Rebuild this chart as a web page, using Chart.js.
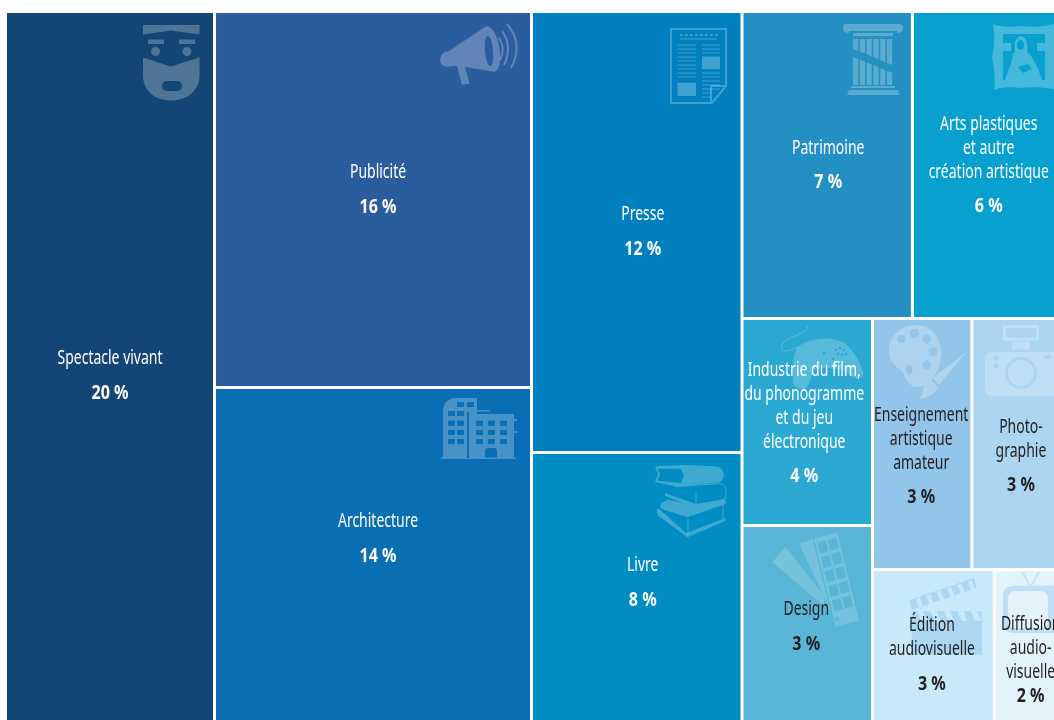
<!DOCTYPE html>
<html lang="fr">
<head>
<meta charset="utf-8">
<title>Répartition par secteur</title>
<script src="https://cdn.jsdelivr.net/npm/chart.js@4"></script>
<style>
    html, body { margin: 0; padding: 0; background: #fff; overflow: hidden; }
    canvas { display: block; }
</style>
</head>
<body>
<canvas id="treemap" width="1054" height="720"></canvas>
<script>
// DATA
const labels = [
    ["Spectacle vivant"], ["Publicité"], ["Architecture"], ["Presse"], ["Livre"],
    ["Patrimoine"], ["Arts plastiques", "et autre", "création artistique"],
    ["Industrie du film,", "du phonogramme", "et du jeu", "électronique"], ["Design"],
    ["Enseignement", "artistique", "amateur"], ["Photo-", "graphie"],
    ["Édition", "audiovisuelle"], ["Diffusion", "audio-", "visuelle"]
];
const percents = [20, 16, 14, 12, 8, 7, 6, 4, 3, 3, 3, 3, 2];
// area of each cell (the printed labels are rounded)
const areas = [19.84, 15.49, 14.60, 12.06, 7.92, 6.80, 5.85, 3.51, 3.67, 3.24, 2.84, 2.73, 1.45];
const colors = [
    "#134675", "#2B5C9E", "#0A6EB4", "#0080BF", "#008DC3", "#248FC2", "#07A0CF",
    "#2CA9D2", "#5AB6D6", "#93C5EA", "#ABD5F1", "#C8E9FA", "#E2F3FC"
];
const darkText = [false, false, false, false, false, false, false, false, true, true, true, true, true];

// which cell sits where: splits go x, y, x, y... at each depth
const tree = [0, [1, 2], [3, 4], [[5, 6], [[7, 8], [[9, 10], [11, 12]]]]];

// the picture is cropped on the right and at the bottom
const visibleX = 99.525;
const visibleY = 96.99;

// text shift from the cell centre [dx, dy of the first line]
const textShift = [
    [0, -18], [5, -26.5], [5, -42.75], [6, -17], [6, -31.5], [1, -16], [3, -40],
    [-3, -51], [-1, -23.75], [-1, -28], [5.5, -16], [-1.5, -29.75], [4, -30.75]
];
const percentGap = [35, 35, 35, 35, 35, 34, 34, 34, 35, 34, 34, 35, 24];

// LAYOUT
function weight(node) {
    return Array.isArray(node) ? node.reduce((s, n) => s + weight(n), 0) : areas[node];
}

function slice(node, x0, y0, x1, y1, depth, out) {
    if (!Array.isArray(node)) {
        out[node] = { x: x0, y: y0, x0, y0, x1, y1 };
        return;
    }
    let total = weight(node);
    let pos = depth % 2 === 0 ? x0 : y0;
    node.forEach(n => {
        let size = weight(n) / total * (depth % 2 === 0 ? x1 - x0 : y1 - y0);
        if (depth % 2 === 0) slice(n, pos, y0, pos + size, y1, depth + 1, out);
        else slice(n, x0, pos, x1, pos + size, depth + 1, out);
        pos += size;
    });
}

const cells = [];
slice(tree, 0, 0, 100, 100, 0, cells);

// ICONS (path strings are local to the icon, in pixels)
function circle(cx, cy, r) {
    return `M${cx - r} ${cy}a${r} ${r} 0 1 0 ${r * 2} 0a${r} ${r} 0 1 0 ${-r * 2} 0Z`;
}

function hLines(x0, x1, ys) {
    return ys.map(y => `M${x0} ${y - 0.6}H${x1}V${y + 0.6}H${x0}Z`).join("");
}

function columnFlutes() {
    let d = "";
    for (let k = 0; k < 6; k++) d += `M${11 + k * 6.8} 15h5.2v46h-5.2Z`;
    return d;
}

function pressDots() {
    let d = "";
    for (let k = 0; k < 8; k++) d += `M${10 + k * 5} 6h2.6v2h-2.6Z`;
    return d;
}

function swatchGrid() {
    let d = "";
    for (let i = 0; i < 5; i++) {
        for (let j = 0; j < 2; j++) {
            let pt = (a, b) => `${(43 + 23.3 * a + 21.7 * b).toFixed(1)} ${(7 - 6.7 * a + 87.7 * b).toFixed(1)}`;
            let a0 = 0.1 + 0.44 * j, a1 = a0 + 0.36, b0 = 0.05 + 0.165 * i, b1 = b0 + 0.125;
            d += `M${pt(a0, b0)}L${pt(a1, b0)}L${pt(a1, b1)}L${pt(a0, b1)}Z`;
        }
    }
    return d + circle(66, 87, 2);
}

function clapperStripes() {
    let d = "";
    for (let k = 0; k < 6; k++) {
        let x = 7 + k * 10.4, y = 21 - k * 3.5;
        d += `M${x} ${y}l4 -1.4l3 8.6l-4 1.4Z`;
    }
    for (let k = 0; k < 5; k++) d += `M${8 + k * 13.5} 33.3h6l4 9.5h-6Z`;
    return d;
}

const icons = {
    0: { at: [137, 13], layers: [
        ["f", "M0 0H56.5V9.5L28 5.5L0 9.5Z M5 14.5h16v4.5h-16Z M36 14.5h16v4.5h-16Z"
            + circle(12.5, 26.5, 4.5) + circle(44, 26.5, 4.5)
            + "M0 32.5L28 41.5L56.5 32.5V50C56.5 66 44 75.5 28 75.5C12 75.5 0 66 0 50Z"],
        ["c", "M24 56h10a5 5 0 0 1 0 10h-10a5 5 0 0 1 0-10Z"]
    ] },
    1: { at: [225, 12], layers: [
        ["f", "M0 37Q0 28 9 27L45 3A9 23 -10 1 1 54 47.7L25 43L29.5 59.5L22 61L17 42L12 42Q2 45 0 37Z"],
        ["c", "M45 27a4 14 -5 1 0 8 0a4 14 -5 1 0 -8 0Z"],
        ["s", "M59 14Q66 25 60 36M62 7Q73 22 64 41M67 0Q84 20 71 44", 2]
    ] },
    3: { at: [138, 16], layers: [
        ["s", "M1 1H56V58L42 75H1Z M56 58H41V75", 2],
        ["f", pressDots() + hLines(10, 47, [11])
            + hLines(7.5, 26, [17, 21, 25, 29, 33, 37, 41, 45, 49])
            + "M7.5 54.7h18.5v13.3h-18.5Z M32 28.4h18v12.6h-18Z"
            + hLines(32, 50, [17, 21, 25, 45, 49, 53, 57, 61]) + hLines(32, 41, [65, 69])]
    ] },
    5: { at: [100, 12], layers: [
        ["f", "M1 3Q1 0 5 0H57Q61 0 61 4Q61 9 55 9V5H7V9Q1 9 1 3Z M7 5H55V7H7Z M11 9H51V12H11Z" + columnFlutes()
            + "M9 62H53V64H9Z M7 66H56L57 71H5Z"],
        ["c", "M9 24L53 42V50L9 32Z"]
    ] },
    6: { at: [79, 12], layers: [
        ["f", "M2 0Q12 4 30 2Q50 4 62 0H65V66Q50 62 30 64Q12 62 3 66Q5 50 1 33Q5 15 2 0Z"],
        ["c", "M12 10H54V56H12Z"],
        ["f", "M14 56L21 36Q21 30 24 28Q22 14 30 12Q38 14 36 28Q44 34 51 56Z M12 19h8v8h-8Z M46 19h8v8h-8Z"],
        ["c", "M26 21a3.5 5 0 1 0 7 0a3.5 5 0 1 0 -7 0Z M27 43l10 -3l4 5l-9 4Z"]
    ] },
    2: { at: [226, 10], layers: [
        ["f", "M2 60V15Q2 1 14 0H36V12H49V13.5H36V60Z M28 16H73V21H76V23H73V33H76V35H73V60H28Z M0 59.5H75V61H0Z"],
        ["c", "M26 14h2v46h-2Z M16 4h7v5h-7Z M26 4h7v5h-7Z M7 13h7v5h-7Z M16 13h7v5h-7Z"
            + "M7 22.7h7v5h-7Z M16 22.7h7v5h-7Z M7 32h7v5h-7Z M16 32h7v5h-7Z M7 41h7v5h-7Z M16 41h7v5h-7Z"
            + "M35 22.7h7v5h-7Z M47 22.7h7v5h-7Z M59 22.7h7v5h-7Z M35 32h7v5h-7Z M47 32h7v5h-7Z M59 32h7v5h-7Z"
            + "M35 41h7v5h-7Z M47 41h7v5h-7Z M59 41h7v5h-7Z M44 59.5V53Q44 50 47 50H53Q56 50 56 53V59.5Z"]
    ] },
    4: { at: [123, 13], layers: [
        ["f", "M0 1.3L30 0L60 1.3Q68.7 2 68.7 9.7Q68.7 18 59.7 18L19.7 21.3L0 17L3 9Z"
            + "M10 28L41 39L70 34L68 37L41 43L10 31Z"
            + "M13 34.7L41 40.7L70.7 35.7V39L32.3 52.3L7 44Q1 40 13 34.7Z"
            + "M3 43L31.3 68L70.7 53V55.7L32.3 72.3L3.7 51Q0 46 3 43Z"],
        ["c", "M2.3 3.7H26L29 10.3L26 18L2.3 15.7L5 9Z"],
        ["s", "M20 21.5L60 19Q70 17 71 25Q72 32 68 36M41 28V40M33 53V69M68 40V54", 1]
    ] },
    7: { at: [39, 7], alpha: 0.2, layers: [
        ["s", "M17 21Q0 30 0.5 20Q2 14 14 10Q26 6 27 0", 1],
        ["f", "M16 22C26 12 55 8 67 20C76 30 84 44 82 50C78 54 72 52 68 48C62 42 40 40 33 44C30 50 28 62 24 63C16 64 10 60 12 50C12 40 12 30 16 22Z"],
        ["c", circle(55, 24, 1.2) + circle(59, 22, 1.2) + circle(63, 24, 1.2) + circle(57, 28, 1.2)
            + circle(61, 29, 1.2) + circle(65, 28, 1.2) + circle(43, 22, 0.8) + circle(43, 27, 1.5) + circle(52, 33, 1.2)]
    ] },
    8: { at: [29, 6], alpha: 0.17, layers: [
        ["f", "M1.3 30.3L14.7 14.7L53 64L53 74Z M28 12L41.3 7L59.7 78.7Z"
            + "M43 7L66.3 0.3L88 88.7L64.7 94.7Z"],
        ["c", swatchGrid()]
    ] },
    9: { at: [16, 6], layers: [
        ["f", "M26 0C40 0 52 10 52 28C52 45 42 60 30 62C20 63 18 54 14 48C10 42 0 40 0 26C0 10 14 0 26 0Z"
            + "M77 27L50 60L44 53Z M42 55L49 62Q45 72 30 74Q34 70 34 64Q36 58 42 55Z"],
        ["c", circle(12.3, 14, 4) + circle(25.3, 8.3, 4.5) + circle(38, 14, 4.5) + circle(44, 26.7, 4.5)
            + circle(38, 40, 4.5) + "M16.5 45a3.5 5 0 1 0 7 0a3.5 5 0 1 0 -7 0Z"]
    ] },
    10: { at: [13, 6], layers: [
        ["f", "M18 0H54V15.7H18Z M27 17H45V24.7H27Z M7 27H73Q80 27 80 34V64Q80 71 73 71H7Q0 71 0 64V34Q0 27 7 27Z"],
        ["c", "M21 3H51V12.7H21Z" + circle(36, 48, 16) + circle(11, 33, 2.7) + circle(11, 41, 2.7) + "M59 30h7v4h-7Z"],
        ["f", circle(36, 48, 13)]
    ] }
};
// these two sit on very pale cells and are drawn in a darker tint
const solidIcons = {
    11: { at: [36, 9], color: "#ABD7F2", layers: [
        ["f", "M0 22.3L65 0L67.7 10L3.3 31.7Z M2.7 33.3H72.7V76.7H2.7Z"],
        ["c", clapperStripes()]
    ] },
    12: { at: [9, 3], color: "#BEDFF5", layers: [
        ["s", "M19.3 0L26.7 13.7M36 0L28.3 13.7", 1.5],
        ["f", "M11 13.7H60V61H11Q0 61 0 50V24.7Q0 13.7 11 13.7Z"],
        ["c", "M13 19H37Q45 19 45 27V48Q45 56 37 56H13Q5 56 5 48V27Q5 19 13 19Z"]
    ] }
};

// CHART
class TreemapController extends Chart.DatasetController {
    update() {
        let rects = this._cachedMeta.data;
        this.updateElements(rects, 0, rects.length, "none");
    }

    updateElements(rects, start, count, mode) {
        let xs = this._cachedMeta.xScale;
        let ys = this._cachedMeta.yScale;
        for (let i = start; i < start + count; i++) {
            let c = this.getDataset().data[i];
            let left = xs.getPixelForValue(c.x0);
            let right = xs.getPixelForValue(c.x1);
            this.updateElement(rects[i], i, {
                x: (left + right) / 2,
                y: ys.getPixelForValue(c.y0),
                base: ys.getPixelForValue(c.y1),
                width: right - left,
                height: ys.getPixelForValue(c.y1) - ys.getPixelForValue(c.y0),
                horizontal: false,
                inflateAmount: 0,
                borderSkipped: {},
                enableBorderRadius: false,
                options: {
                    backgroundColor: colors[i],
                    borderColor: "#fff",
                    borderWidth: 1.5,
                    borderRadius: 0
                }
            }, mode);
        }
    }
}
TreemapController.id = "treemap";
TreemapController.defaults = { dataElementType: "bar", datasetElementType: false };
Chart.register(TreemapController);

function paintIcon(ctx, icon, left, top, cellColor, ink) {
    ctx.save();
    ctx.translate(Math.round(left + icon.at[0]), Math.round(top + icon.at[1]));
    icon.layers.forEach(layer => {
        let path = new Path2D(layer[1]);
        if (layer[0] === "s") {
            ctx.strokeStyle = ink;
            ctx.lineWidth = layer[2];
            ctx.stroke(path);
        } else {
            ctx.fillStyle = layer[0] === "f" ? ink : cellColor;
            ctx.fill(path);
        }
    });
    ctx.restore();
}

// no condensed face is installed, so text is squeezed to the reference widths
function squeezedText(ctx, text, x, y, squeeze) {
    ctx.save();
    ctx.translate(x, y);
    ctx.scale(squeeze, 1);
    ctx.fillText(text, 0, 0);
    ctx.restore();
}

const labelFont = "19px 'Noto Sans'";
const percentFont = "bold 19px 'Noto Sans'";

const cellPaint = {
    id: "cellPaint",
    afterDatasetsDraw(chart) {
        let ctx = chart.ctx;
        let xs = chart.scales.x;
        let ys = chart.scales.y;
        ctx.save();
        ctx.beginPath();
        ctx.rect(0, 0, chart.width, chart.height);
        ctx.clip();

        ctx.font = labelFont;
        let labelSqueeze = 105 / ctx.measureText("Spectacle vivant").width;
        ctx.font = percentFont;
        let percentSqueeze = 37 / ctx.measureText("20 %").width;

        cells.forEach((c, i) => {
            let left = xs.getPixelForValue(c.x0);
            let right = xs.getPixelForValue(c.x1);
            let top = ys.getPixelForValue(c.y0);
            let bottom = ys.getPixelForValue(c.y1);

            if (icons[i]) {
                let alpha = icons[i].alpha || 0.25;
                paintIcon(ctx, icons[i], left, top, colors[i], `rgba(255,255,255,${alpha})`);
            }
            if (solidIcons[i]) paintIcon(ctx, solidIcons[i], left, top, colors[i], solidIcons[i].color);

            let cx = (left + right) / 2 + textShift[i][0];
            let y = (top + bottom) / 2 + textShift[i][1];
            ctx.textAlign = "center";
            ctx.textBaseline = "middle";
            ctx.fillStyle = darkText[i] ? "#231F20" : "#fff";
            ctx.font = labelFont;
            labels[i].forEach((line, k) => squeezedText(ctx, line, cx, y + k * 24, labelSqueeze));
            ctx.font = percentFont;
            squeezedText(ctx, percents[i] + " %", cx, y + (labels[i].length - 1) * 24 + percentGap[i], percentSqueeze);
        });
        ctx.restore();
    }
};

new Chart(document.getElementById("treemap"), {
    type: "treemap",
    data: {
        labels: labels.map(l => l.join(" ")),
        datasets: [{ data: cells, parsing: false }]
    },
    options: {
        responsive: false,
        animation: false,
        events: [],
        layout: { padding: { left: 5.5, top: 11.5, right: 0, bottom: 0 } },
        scales: {
            x: { type: "linear", min: 0, max: visibleX, display: false },
            y: { type: "linear", min: 0, max: visibleY, reverse: true, display: false }
        },
        plugins: { legend: { display: false }, tooltip: { enabled: false } }
    },
    plugins: [cellPaint]
});
</script>
</body>
</html>
